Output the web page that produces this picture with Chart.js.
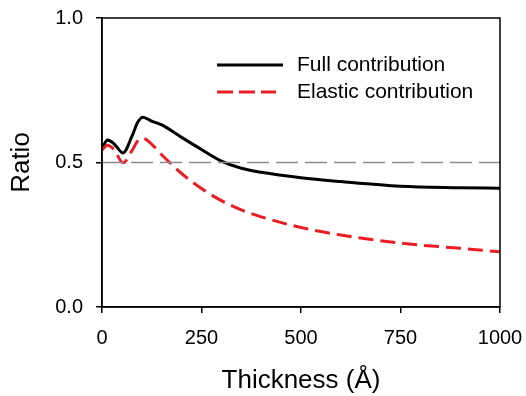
<!DOCTYPE html>
<html>
<head>
<meta charset="utf-8">
<script src="https://cdn.jsdelivr.net/npm/chart.js@4"></script>
<style>
  html, body { margin: 0; padding: 0; background: #fff; }
  #wrap { width: 526px; height: 396px; }
</style>
</head>
<body>
<div id="wrap"><canvas id="chart" width="526" height="396"></canvas></div>
<script>
// ---------- Dados ----------
const thickness = [0, 14, 30, 53, 75, 90, 103, 125, 150, 200, 250, 300, 350, 400, 500, 600, 750, 900, 1000];
const fullContribution = [0.548, 0.578, 0.565, 0.533, 0.59, 0.64, 0.657, 0.643, 0.63, 0.587, 0.545, 0.505, 0.48, 0.466, 0.447, 0.434, 0.418, 0.413, 0.411];
const elasticContribution = [0.543, 0.56, 0.545, 0.499, 0.54, 0.575, 0.584, 0.563, 0.527, 0.462, 0.41, 0.368, 0.336, 0.312, 0.275, 0.249, 0.221, 0.203, 0.191];
const refLine = [0.5, 0.5];
const refX = [0, 1000];
const xTicks = [0, 250, 500, 750, 1000];
const yTicks = [0.0, 0.5, 1.0];
const seriesLabels = ['Full contribution', 'Elastic contribution'];

const font = 'Liberation Sans, Arial, Helvetica, sans-serif';
const red = '#ec1c24';

const toPoints = (xs, ys) => xs.map((x, i) => ({ x: x, y: ys[i] }));

// ---------- Moldura + legenda ----------
const framePlugin = {
  id: 'frame',
  afterDraw(chart) {
    const { ctx, chartArea: a } = chart;
    ctx.save();
    ctx.strokeStyle = '#000';
    ctx.lineWidth = 1.5;
    ctx.strokeRect(a.left, a.top, a.right - a.left, a.bottom - a.top);

    // legenda
    const lx0 = 217, lx1 = 283, tx = 297;
    const rows = [
      { y: 65, x1: lx1, color: '#000', dash: [] },
      { y: 92, x1: 276, color: red, dash: [16, 6] }
    ];
    rows.forEach((r, i) => {
      ctx.beginPath();
      ctx.setLineDash(r.dash);
      ctx.strokeStyle = r.color;
      ctx.lineWidth = 3;
      ctx.moveTo(lx0, r.y);
      ctx.lineTo(r.x1, r.y);
      ctx.stroke();
      ctx.setLineDash([]);
      ctx.fillStyle = '#000';
      ctx.font = '21px ' + font;
      ctx.textBaseline = 'middle';
      ctx.textAlign = 'left';
      ctx.fillText(seriesLabels[i], tx, r.y);
    });
    ctx.restore();
  }
};

new Chart(document.getElementById('chart'), {
  type: 'line',
  data: {
    datasets: [
      {
        label: 'ref',
        data: toPoints(refX, refLine),
        borderColor: '#8c8c8c',
        borderWidth: 1.5,
        borderDash: [22, 7],
        pointRadius: 0,
        fill: false
      },
      {
        label: seriesLabels[1],
        data: toPoints(thickness, elasticContribution),
        borderColor: red,
        borderWidth: 3,
        borderDash: [15, 7],
        pointRadius: 0,
        cubicInterpolationMode: 'monotone',
        fill: false
      },
      {
        label: seriesLabels[0],
        data: toPoints(thickness, fullContribution),
        borderColor: '#000',
        borderWidth: 3,
        pointRadius: 0,
        cubicInterpolationMode: 'monotone',
        fill: false
      }
    ]
  },
  options: {
    responsive: false,
    animation: false,
    devicePixelRatio: 1,
    layout: { padding: { top: 18, right: 26, left: 0, bottom: 0 } },
    plugins: { legend: { display: false }, tooltip: { enabled: false } },
    scales: {
      x: {
        type: 'linear',
        min: 0, max: 1000,
        afterFit(s) { s.height = 89; s.paddingLeft = 0; s.paddingRight = 0; },
        afterBuildTicks(s) { s.ticks = xTicks.map(v => ({ value: v })); },
        grid: { drawOnChartArea: false, tickLength: 6, color: '#000', lineWidth: 1.5 },
        border: { display: true, color: '#000', width: 1.5 },
        ticks: {
          color: '#000', padding: 13, maxRotation: 0, font: { family: font, size: 20 },
          callback: v => String(v)
        },
        title: {
          display: true, text: 'Thickness (Å)', color: '#000',
          font: { family: font, size: 26 }, padding: { top: 0, bottom: 0 }
        }
      },
      y: {
        type: 'linear',
        min: 0, max: 1,
        afterFit(s) { s.width = 102; s.paddingTop = 0; s.paddingBottom = 0; },
        afterBuildTicks(s) { s.ticks = yTicks.map(v => ({ value: v })); },
        grid: { drawOnChartArea: false, tickLength: 6, color: '#000', lineWidth: 1.5 },
        border: { display: true, color: '#000', width: 1.5 },
        ticks: {
          color: '#000', padding: 13, font: { family: font, size: 20 },
          callback: v => Number(v).toFixed(1)
        },
        title: {
          display: true, text: 'Ratio', color: '#000',
          font: { family: font, size: 26 }, padding: 6
        }
      }
    }
  },
  plugins: [framePlugin]
});
</script>
</body>
</html>
